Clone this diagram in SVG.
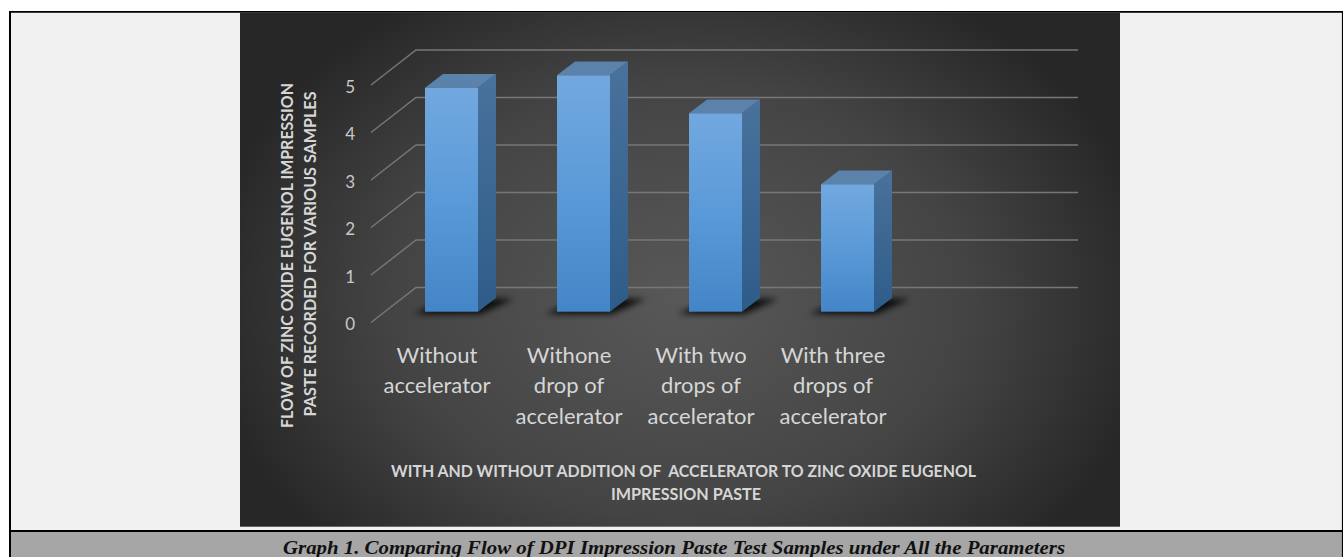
<svg xmlns="http://www.w3.org/2000/svg" width="1343" height="557" viewBox="0 0 1343 557">
<defs>
<radialGradient id="bg" gradientUnits="userSpaceOnUse" cx="680" cy="300" r="480" gradientTransform="translate(680 300) scale(1 0.75) translate(-680 -300)">
<stop offset="0" stop-color="#585858"/>
<stop offset="0.6" stop-color="#444444"/>
<stop offset="1" stop-color="#272727"/>
</radialGradient>
<linearGradient id="front" x1="0" y1="0" x2="0" y2="1">
<stop offset="0" stop-color="#72a8df"/>
<stop offset="0.5" stop-color="#5a9ad8"/>
<stop offset="1" stop-color="#4485c7"/>
</linearGradient>
<linearGradient id="side" x1="0" y1="0" x2="0" y2="1">
<stop offset="0" stop-color="#49729c"/>
<stop offset="1" stop-color="#2e5c89"/>
</linearGradient>
<filter id="blur" x="-20%" y="-50%" width="140%" height="200%">
<feGaussianBlur stdDeviation="3"/>
</filter>
<style>
.grid{stroke:#777;stroke-width:1.5;fill:none}
.tick{font-family:Lato,"Liberation Sans",sans-serif;font-size:17px;fill:#c8c8c8;text-anchor:end}
.cat{font-family:Lato,"Liberation Sans",sans-serif;font-size:22px;fill:#d6d6d6;text-anchor:middle}
.ttl{font-family:Lato,"Liberation Sans",sans-serif;font-size:17px;font-weight:bold;fill:#d6d6d6;text-anchor:middle}
.top{fill:#5a82ab}
.sd{fill:url(#side)}
.fr{fill:url(#front)}
.shadow{fill:#000;opacity:0.85;filter:url(#blur)}
.cap{font-family:"Liberation Serif",serif;font-size:19px;font-weight:bold;font-style:italic;fill:#111;text-anchor:middle}
</style>
</defs>
<rect x="0" y="0" width="1343" height="557" fill="#ffffff"/>
<rect x="10" y="12" width="1333" height="519" fill="#f1f1f1"/>
<rect x="10" y="531" width="1333" height="26" fill="#a6a6a6"/>
<g id="frame" stroke="#000" fill="none">
<line x1="9" y1="11.9" x2="1343" y2="11.9" stroke-width="1.7"/>
<line x1="10" y1="11" x2="10" y2="557" stroke-width="2"/>
<line x1="1342.5" y1="11" x2="1342.5" y2="557" stroke-width="1.2"/>
<line x1="9" y1="531" x2="1343" y2="531" stroke-width="2"/>
</g>
<g id="chart">
<rect x="240" y="12.7" width="880" height="514" fill="url(#bg)"/>
<g id="gridlines">
<path class="grid" d="M371 85L416 50H1078M371 132.5L416 97.5H1078M371 180L416 145H1078M371 227.5L416 192.5H1078M371 275L416 240H1078M371 322.5L416 287.5H1078"/>
</g>
<g id="ticks">
<text class="tick" x="355" y="92.5">5</text>
<text class="tick" x="355" y="140">4</text>
<text class="tick" x="355" y="187.5">3</text>
<text class="tick" x="355" y="235">2</text>
<text class="tick" x="355" y="282.5">1</text>
<text class="tick" x="355" y="330">0</text>
</g>
<g id="bar1">
<polygon class="shadow" points="414,314 480,314 514,299 448,298"/>
<polygon class="sd" points="478,87.7 496,74 496,298 478,311.7"/>
<polygon class="top" points="425,87.7 443,74 496,74 478,87.7"/>
<rect class="fr" x="425" y="87.7" width="53" height="224"/>
</g>
<g id="bar2">
<polygon class="shadow" points="546,314 612,314 646,299 580,298"/>
<polygon class="sd" points="610,75.3 628,61.6 628,298 610,311.7"/>
<polygon class="top" points="557,75.3 575,61.6 628,61.6 610,75.3"/>
<rect class="fr" x="557" y="75.3" width="53" height="236.4"/>
</g>
<g id="bar3">
<polygon class="shadow" points="678,314 744,314 778,299 712,298"/>
<polygon class="sd" points="742,113.3 760,99.6 760,298 742,311.7"/>
<polygon class="top" points="689,113.3 707,99.6 760,99.6 742,113.3"/>
<rect class="fr" x="689" y="113.3" width="53" height="198.4"/>
</g>
<g id="bar4">
<polygon class="shadow" points="810,314 876,314 910,299 844,298"/>
<polygon class="sd" points="874,184.3 892,170.6 892,298 874,311.7"/>
<polygon class="top" points="821,184.3 839,170.6 892,170.6 874,184.3"/>
<rect class="fr" x="821" y="184.3" width="53" height="127.4"/>
</g>
<g id="categories">
<text class="cat" x="437" y="362.5">Without</text>
<text class="cat" x="437" y="393">accelerator</text>
<text class="cat" x="569" y="362.5">Withone</text>
<text class="cat" x="569" y="393">drop of</text>
<text class="cat" x="569" y="423.5">accelerator</text>
<text class="cat" x="701" y="362.5">With two</text>
<text class="cat" x="701" y="393">drops of</text>
<text class="cat" x="701" y="423.5">accelerator</text>
<text class="cat" x="833" y="362.5">With three</text>
<text class="cat" x="833" y="393">drops of</text>
<text class="cat" x="833" y="423.5">accelerator</text>
</g>
<g id="x-title">
<text class="ttl" x="683.5" y="477.3" textLength="585" lengthAdjust="spacingAndGlyphs" xml:space="preserve">WITH AND WITHOUT ADDITION OF  ACCELERATOR TO ZINC OXIDE EUGENOL</text>
<text class="ttl" x="686" y="500" textLength="150" lengthAdjust="spacingAndGlyphs">IMPRESSION PASTE</text>
</g>
<g id="y-title">
<text class="ttl" transform="translate(293.3 255.5) rotate(-90)" x="0" y="0" textLength="345" lengthAdjust="spacingAndGlyphs">FLOW OF ZINC OXIDE EUGENOL IMPRESSION</text>
<text class="ttl" transform="translate(316 254) rotate(-90)" x="0" y="0" textLength="325" lengthAdjust="spacingAndGlyphs">PASTE RECORDED FOR VARIOUS SAMPLES</text>
</g>
</g>
<g id="caption">
<text class="cap" x="674" y="554" textLength="782" lengthAdjust="spacingAndGlyphs">Graph 1. Comparing Flow of DPI Impression Paste Test Samples under All the Parameters</text>
</g>
</svg>
